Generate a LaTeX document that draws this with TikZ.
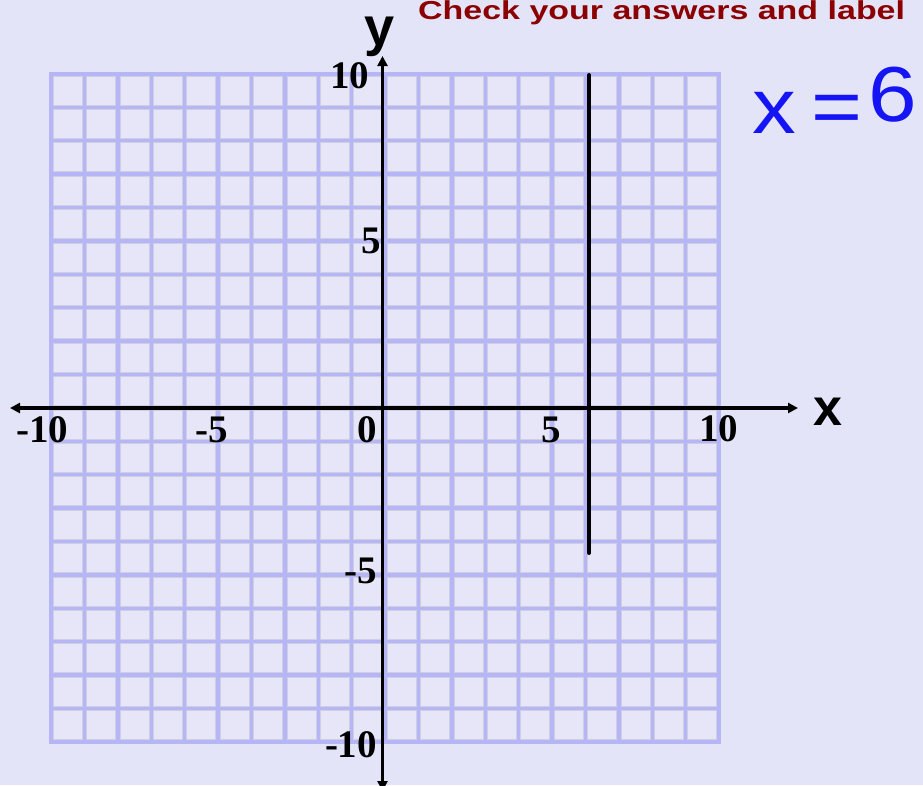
\documentclass[tikz,border=0pt]{standalone}
\usepackage{fontspec}
\usepackage{graphicx}
\setmainfont{Liberation Serif}
\newfontfamily\sansfam{Liberation Sans}
\usetikzlibrary{arrows.meta}
\definecolor{bg}{HTML}{E4E4F8}
\definecolor{gridln}{HTML}{B6B6F6}
\definecolor{cellfill}{HTML}{E6E6F8}
\definecolor{celledge}{HTML}{CFCFE2}
\definecolor{titlered}{HTML}{8B0000}
\definecolor{handblue}{HTML}{1414F5}
\begin{document}
\begin{tikzpicture}[x=1pt,y=-1pt,
  axisline/.style={line width=3.6pt, black},
  axtip/.style={{Triangle[length=10pt,width=10pt]}-{Triangle[length=10pt,width=10pt]}},
  num/.style={font=\bfseries\fontsize{39}{39}\selectfont, inner sep=0pt, anchor=base},
  axname/.style={font=\sansfam\bfseries\fontsize{54}{54}\selectfont, inner sep=0pt, anchor=base},
  cellbox/.style={fill=cellfill, draw=celledge, line width=0.8pt},
  graphline/.style={line width=4pt, black, line cap=round}
]
\useasboundingbox (0,0) rectangle (923,785);
\fill[bg] (0,0) rectangle (923,785);
% grid
\fill[gridln] (48.8,71.55) rectangle (721.2,743.95);
\foreach \i in {0,...,19}{
  \foreach \j in {0,...,19}{
    \filldraw[cellbox] ({53.2+\i*33.4},{75.95+\j*33.4}) rectangle ++(29,29);
  }
}
% axes
\coordinate (xL) at (10,408);
\coordinate (xR) at (798,408);
\coordinate (yT) at (382.5,56);
\coordinate (yB) at (382.5,791);
\draw[axisline, axtip] (xL) -- (xR);
\draw[axisline, axtip] (yB) -- (yT);
% graph line x = 6
\coordinate (vT) at (589,75);
\coordinate (vB) at (589,553);
\draw[graphline] (vT) -- (vB);
% tick labels
\node[num] (ly10) at (349.5,88) {10};
\node[num] (ly5) at (371,253) {5};
\node[num] (lym5) at (361,583) {-5};
\node[num] (lym10) at (351,757) {-10};
\node[num] (lxm10) at (42.5,442) {-10};
\node[num] (lxm5) at (211.5,442) {-5};
\node[num] (lx0) at (367.5,442) {0};
\node[num] (lx5) at (551,442) {5};
\node[num] (lx10) at (718.5,441) {10};
% axis names
\node[axname] (yname) at (380,45) {y};
\node[axname, font=\sansfam\bfseries\fontsize{52}{52}\selectfont] (xname) at (828,425) {x};
% title
\node[inner sep=0pt, anchor=base west, text=titlered, font=\sansfam\bfseries\fontsize{26}{26}\selectfont] (title) at (418,19) {\scalebox{1.306}[1]{Check your answers and label}};
% handwritten answer
\node[inner sep=0pt, anchor=base west, text=handblue, font=\sansfam\fontsize{78}{78}\selectfont] (answer) at (752,133) {\scalebox{1.12}[1]{x\kern14pt=\kern5pt\raisebox{12pt}{6}}};
\end{tikzpicture}
\end{document}
